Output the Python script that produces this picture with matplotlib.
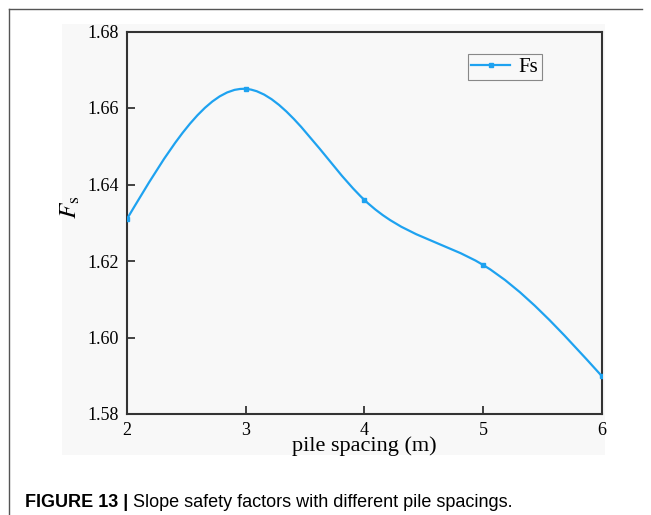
import numpy as np
import matplotlib
matplotlib.use('Agg')
import matplotlib.pyplot as plt
from matplotlib.path import Path
from matplotlib.patches import PathPatch, Rectangle
from matplotlib.lines import Line2D

# data
spacing = [2, 3, 4, 5, 6]
fs = [1.631, 1.665, 1.636, 1.619, 1.590]
xticks = [2, 3, 4, 5, 6]
yticks = [1.58, 1.60, 1.62, 1.64, 1.66, 1.68]

blue = '#1ea2f0'
W, H = 651, 515

plt.rcParams['font.family'] = 'Liberation Serif'
plt.rcParams['mathtext.fontset'] = 'stix'


def spline_path(xs, ys):
    # natural cubic spline drawn as bezier segments
    xs = np.asarray(xs, float)
    ys = np.asarray(ys, float)
    n = len(xs)
    h = np.diff(xs)
    A = np.zeros((n, n))
    b = np.zeros(n)
    A[0, 0] = A[-1, -1] = 1
    for i in range(1, n - 1):
        A[i, i - 1] = h[i - 1]
        A[i, i] = 2 * (h[i - 1] + h[i])
        A[i, i + 1] = h[i]
        b[i] = 6 * ((ys[i + 1] - ys[i]) / h[i] - (ys[i] - ys[i - 1]) / h[i - 1])
    M = np.linalg.solve(A, b)
    verts = [(xs[0], ys[0])]
    codes = [Path.MOVETO]
    for i in range(n - 1):
        s = (ys[i + 1] - ys[i]) / h[i]
        d0 = s - h[i] * (2 * M[i] + M[i + 1]) / 6
        d1 = s + h[i] * (M[i] + 2 * M[i + 1]) / 6
        verts += [(xs[i] + h[i] / 3, ys[i] + d0 * h[i] / 3),
                  (xs[i + 1] - h[i] / 3, ys[i + 1] - d1 * h[i] / 3),
                  (xs[i + 1], ys[i + 1])]
        codes += [Path.CURVE4] * 3
    return Path(verts, codes)


fig = plt.figure(figsize=(W / 100, H / 100), dpi=100)

# grey plot panel and page frame
fig.patches.append(Rectangle((62 / W, 1 - 455 / H), (605 - 62) / W, (455 - 24) / H,
                             transform=fig.transFigure, facecolor='#f8f8f8',
                             edgecolor='none', zorder=-5))
frame = dict(transform=fig.transFigure, color='#555555', linewidth=1.0, zorder=-5)
fig.lines.append(Line2D([9 / W, 642 / W], [1 - 9 / H, 1 - 9 / H], **frame))
fig.lines.append(Line2D([9 / W, 9 / W], [1 - 9 / H, 0], **frame))

ax = fig.add_axes([127 / W, 1 - 414 / H, (601.5 - 127) / W, (414 - 31.5) / H])
ax.set_facecolor('none')

ax.add_patch(PathPatch(spline_path(spacing, fs), facecolor='none',
                       edgecolor=blue, linewidth=1.6, zorder=3))
ax.plot(spacing, fs, linestyle='none', marker='s', markersize=3.2,
        color=blue, zorder=4)

ax.set_xlim(2, 6)
ax.set_ylim(1.58, 1.68)
ax.set_xticks(xticks)
ax.set_yticks(yticks)
ax.set_yticklabels([f'{v:.2f}' for v in yticks])

for s in ax.spines.values():
    s.set_linewidth(1.5)
    s.set_color('#333333')
ax.tick_params(direction='in', length=6, width=1.3, color='#333333',
               labelsize=13, top=False, right=False)
ax.tick_params(axis='y', pad=6)
ax.tick_params(axis='x', pad=6)

ax.set_xlabel('pile spacing (m)', fontsize=16, labelpad=-2)
ax.set_ylabel(r'$F_\mathrm{s}$', fontsize=18)
ax.yaxis.set_label_coords(-0.095, 0.54)

legend_handle = Line2D([], [], color=blue, linewidth=1.6, marker='s', markersize=3.2)
leg = ax.legend([legend_handle], ['Fs'], loc='upper left',
                bbox_to_anchor=(0.718, 0.94), fontsize=15, fancybox=False,
                framealpha=1, edgecolor='#888888', handlelength=1.9,
                handletextpad=0.4, borderpad=0.15, borderaxespad=0)
leg.get_frame().set_linewidth(0.8)
leg.get_frame().set_facecolor('none')

# caption: bold label, then regular text right after it
cap = fig.text(25 / W, 1 - 507 / H, 'FIGURE 13 |', fontsize=13, fontweight='bold',
               family='Liberation Sans', va='baseline')
fig.canvas.draw()
bb = cap.get_window_extent()
fig.text(bb.x1 / W, bb.y0 / H, ' Slope safety factors with different pile spacings.',
         fontsize=13, family='Liberation Sans', va='bottom')

fig.savefig('out.png', dpi=100)
